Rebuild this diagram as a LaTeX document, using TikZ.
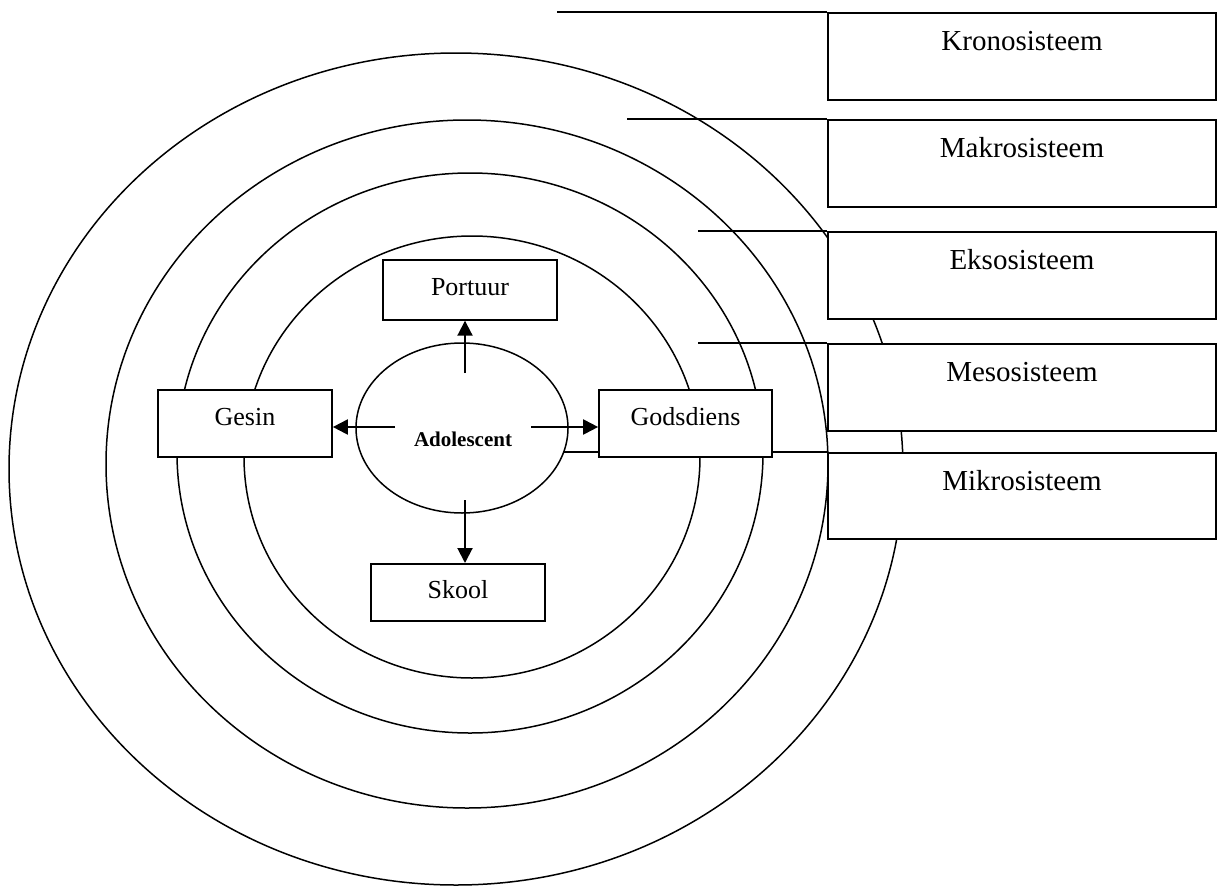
\documentclass[tikz,border=0pt]{standalone}
\usepackage{fontspec}
\setmainfont{Liberation Serif}
\usetikzlibrary{shapes.geometric,arrows.meta,backgrounds}
\begin{document}
\begin{tikzpicture}[x=1pt,y=-1pt,
  ring/.style={line width=1.5pt},
  link/.style={line width=1.5pt},
  sbox/.style={draw,fill=white,line width=1.7pt,inner sep=0pt,anchor=north,font=\fontsize{26}{30}\selectfont},
  sysbox/.style={draw,fill=white,line width=1.7pt,inner sep=0pt,anchor=north,minimum width=388pt,text height=38pt,text depth=49pt,font=\fontsize{29}{34}\selectfont},
  arr/.style={line width=2pt,-{Triangle[length=15pt,width=15pt]}}]
\useasboundingbox (0,0) rectangle (1217,886);
% concentric rings
\draw[ring] (456,469) ellipse [x radius=447pt, y radius=416pt];
\draw[ring] (467,464) ellipse [x radius=361pt, y radius=344pt];
\draw[ring] (470,453) ellipse [x radius=293pt, y radius=280pt];
\draw[ring] (472,457) ellipse [x radius=228pt, y radius=221pt];
% system boxes
\node[sysbox] (krono) at (1022,12) {Kronosisteem};
\node[sysbox] (makro) at (1022,119) {Makrosisteem};
\node[sysbox] (ekso) at (1022,231) {Eksosisteem};
\node[sysbox] (meso) at (1022,343) {Mesosisteem};
\node[sysbox,text depth=48pt] (mikro) at (1022,452) {Mikrosisteem};
% inner boxes
\node[sbox,minimum width=174pt,text height=35.5pt,text depth=24.5pt] (portuur) at (470,259) {Portuur};
\node[sbox,minimum width=174pt,text height=36pt,text depth=31pt] (gesin) at (245,389) {Gesin};
\node[sbox,minimum width=173pt,text height=36pt,text depth=31pt] (gods) at (685.5,389) {Godsdiens};
\node[sbox,minimum width=174pt,text height=35pt,text depth=22pt] (skool) at (458,563) {Skool};
% centre
\node[draw,fill=white,ellipse,line width=1.5pt,minimum width=212pt,minimum height=170pt,inner sep=0pt] (adol) at (462,428) {};
\node[font=\bfseries\fontsize{21}{25}\selectfont,anchor=base,inner sep=0pt] (adolT) at (463,446) {Adolescent};
% connector lines to system boxes
\coordinate (kL) at (557,12);
\coordinate (maL) at (627,119);
\coordinate (eL) at (698,231);
\coordinate (meL) at (698,343);
\begin{scope}[on background layer]
\draw[link] (kL) -- (krono.north west);
\draw[link] (maL) -- (makro.north west);
\draw[link] (eL) -- (ekso.north west);
\draw[link] (meL) -- (meso.north west);
\draw[link] (adol.center |- mikro.north west) -- (mikro.north west);
\end{scope}
% arrows
\coordinate (aU) at (465,373);
\coordinate (aD) at (465,500);
\coordinate (aL) at (395,427);
\coordinate (aR) at (531,427);
\draw[arr] (aU) -- (aU |- portuur.south);
\draw[arr] (aD) -- (aD |- skool.north);
\draw[arr] (aL) -- (aL -| gesin.east);
\draw[arr] (aR) -- (aR -| gods.west);
\end{tikzpicture}
\end{document}
